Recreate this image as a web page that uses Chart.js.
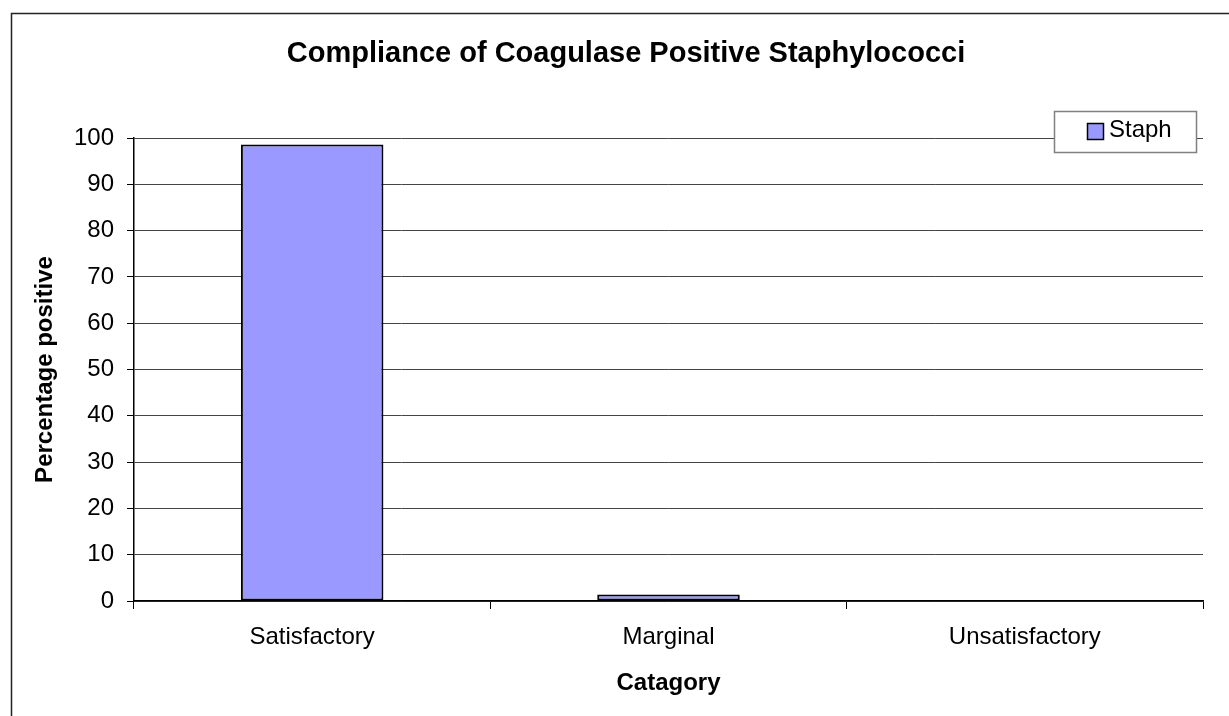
<!DOCTYPE html>
<html>
<head>
<meta charset="utf-8">
<script src="https://cdn.jsdelivr.net/npm/chart.js@4/dist/chart.umd.min.js"></script>
<style>
  html, body { margin: 0; padding: 0; background: #ffffff; overflow: hidden; }
  #wrap { width: 1229px; height: 716px; position: relative; }
  canvas { display: block; }
</style>
</head>
<body>
<div id="wrap"><canvas id="chart" width="1229" height="716"></canvas></div>
<script>
// Categories and results
const categories = ['Satisfactory', 'Marginal', 'Unsatisfactory'];
const staphValues = [98.6, 1.4, 0];
const seriesName = 'Staph';
const chartTitle = 'Compliance of Coagulase Positive Staphylococci';
const yAxisTitle = 'Percentage positive';
const xAxisTitle = 'Catagory';

const FONT = '"Liberation Sans", Arial, Helvetica, sans-serif';
const BAR_FILL = '#9999FF';

// Outer frame, chart title and boxed legend
const decorations = {
  id: 'decorations',
  beforeDraw(chart) {
    const ctx = chart.ctx;
    ctx.save();
    ctx.fillStyle = '#ffffff';
    ctx.fillRect(0, 0, chart.width, chart.height);
    ctx.strokeStyle = '#222222';
    ctx.lineWidth = 1.5;
    ctx.beginPath();
    ctx.moveTo(11.5, chart.height + 2);
    ctx.lineTo(11.5, 13.5);
    ctx.lineTo(chart.width + 2, 13.5);
    ctx.stroke();
    ctx.restore();
  },
  afterDraw(chart) {
    const ctx = chart.ctx;
    ctx.save();
    // title
    ctx.fillStyle = '#000000';
    ctx.font = 'bold 29px ' + FONT;
    ctx.textAlign = 'center';
    ctx.textBaseline = 'alphabetic';
    ctx.fillText(chartTitle, 626, 62);

    // legend box
    const ds = chart.data.datasets[0];
    ctx.fillStyle = '#ffffff';
    ctx.fillRect(1054, 111, 143, 42);
    ctx.strokeStyle = '#808080';
    ctx.lineWidth = 1.5;
    ctx.strokeRect(1054.5, 111.5, 142, 41);
    ctx.fillStyle = ds.backgroundColor;
    ctx.fillRect(1088, 124, 15, 15);
    ctx.strokeStyle = '#000000';
    ctx.lineWidth = 1.5;
    ctx.strokeRect(1087.5, 123.5, 16, 16);
    ctx.fillStyle = '#000000';
    ctx.font = '24px ' + FONT;
    ctx.textAlign = 'left';
    ctx.fillText(ds.label, 1109, 137);
    ctx.restore();
  }
};

new Chart(document.getElementById('chart'), {
  type: 'bar',
  data: {
    labels: categories,
    datasets: [{
      label: seriesName,
      data: staphValues,
      backgroundColor: BAR_FILL,
      borderColor: '#000000',
      borderWidth: 2,
      borderSkipped: false,
      categoryPercentage: 0.4,
      barPercentage: 1.0
    }]
  },
  options: {
    responsive: false,
    animation: false,
    layout: { padding: { left: 22, right: 26, top: 138, bottom: 0 } },
    plugins: {
      legend: { display: false },
      title: { display: false },
      tooltip: { enabled: false }
    },
    scales: {
      x: {
        afterFit(scale) { scale.height = 115; },
        grid: {
          offset: true,
          drawOnChartArea: true,
          color: (c) => (c.index === 3 ? '#808080' : 'rgba(0,0,0,0)'),
          tickColor: (c) => (c.index === 3 ? '#808080' : '#000000'),
          lineWidth: (c) => (c.index === 3 ? 2 : 1),
          tickWidth: (c) => (c.index === 3 ? 2 : 1),
          tickLength: 8
        },
        border: { display: true, color: '#000000', width: 1.5 },
        ticks: {
          color: '#000000',
          font: { family: FONT, size: 24 },
          padding: 14,
          maxRotation: 0
        },
        title: {
          display: true,
          text: xAxisTitle,
          color: '#000000',
          font: { family: FONT, size: 24, weight: 'bold' },
          padding: { top: 0, bottom: 18 }
        }
      },
      y: {
        min: 0,
        max: 100,
        afterFit(scale) { scale.width = 112; },
        grid: {
          color: '#454545',
          lineWidth: 1,
          tickColor: '#000000',
          tickLength: 7
        },
        border: { display: true, color: '#000000', width: 1.5 },
        ticks: {
          stepSize: 10,
          color: '#000000',
          font: { family: FONT, size: 24 },
          padding: 13
        },
        title: {
          display: true,
          text: yAxisTitle,
          color: '#000000',
          font: { family: FONT, size: 24, weight: 'bold' },
          padding: { top: 9, bottom: 0 }
        }
      }
    }
  },
  plugins: [decorations]
});
</script>
</body>
</html>
